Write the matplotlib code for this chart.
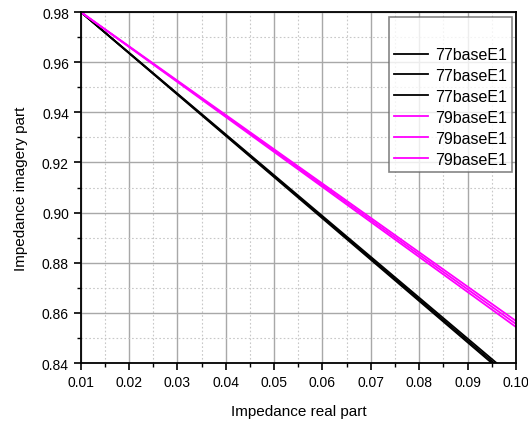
import numpy as np
import matplotlib.pyplot as plt
from matplotlib.ticker import MultipleLocator

plt.rcParams['font.family'] = ['Liberation Sans', 'DejaVu Sans']

# real part range and end values of each curve
x_real = [0.01, 0.10]
black_imag = [[0.98, 0.8318], [0.98, 0.8326], [0.98, 0.8335]]
magenta_imag = [[0.98, 0.8544], [0.98, 0.8556], [0.98, 0.8568]]
labels_77 = ['77baseE1', '77baseE1', '77baseE1']
labels_79 = ['79baseE1', '79baseE1', '79baseE1']

fig = plt.figure(figsize=(5.28, 4.27), dpi=100)
ax = fig.add_axes([0.153, 0.1475, 0.824, 0.822])

for y, lab in zip(black_imag, labels_77):
    ax.plot(x_real, y, color='black', lw=1.3, label=lab)
for y, lab in zip(magenta_imag, labels_79):
    ax.plot(x_real, y, color='#ff00ff', lw=1.3, label=lab)

ax.set_xlim(0.01, 0.10)
ax.set_ylim(0.84, 0.98)
ax.xaxis.set_major_locator(MultipleLocator(0.01))
ax.xaxis.set_minor_locator(MultipleLocator(0.005))
ax.yaxis.set_major_locator(MultipleLocator(0.02))
ax.yaxis.set_minor_locator(MultipleLocator(0.01))
ax.xaxis.set_major_formatter(plt.FormatStrFormatter('%.2f'))
ax.yaxis.set_major_formatter(plt.FormatStrFormatter('%.2f'))

ax.grid(which='major', color='#a8a8a8', lw=1.0, ls='-')
ax.grid(which='minor', color='#c8c8c8', lw=0.8, ls=(0, (1.5, 2)))
ax.set_axisbelow(True)

ax.tick_params(which='major', direction='out', length=5, width=1.2, labelsize=10)
ax.tick_params(which='minor', direction='out', length=3, width=1.0)
for s in ax.spines.values():
    s.set_linewidth(1.3)

ax.set_xlabel('Impedance real part', fontsize=11, labelpad=11)
ax.set_ylabel('Impedance imagery part', fontsize=11, labelpad=10)

leg = ax.legend(loc='upper right', bbox_to_anchor=(0.991, 0.986), fontsize=11.5,
                title=' ', title_fontsize=15, frameon=True, fancybox=False,
                edgecolor='#666666', handlelength=2.1, labelspacing=0.37,
                borderpad=0.33, handletextpad=0.45, borderaxespad=0)
leg.get_frame().set_linewidth(1.2)

fig.savefig('out.png', dpi=100)
